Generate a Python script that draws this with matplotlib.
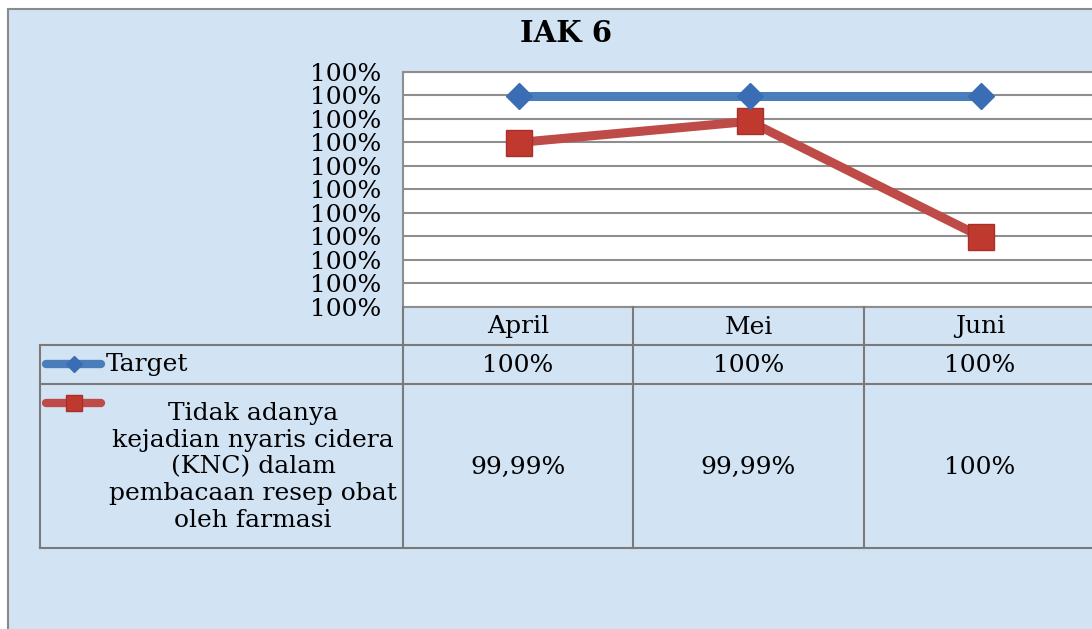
import numpy as np
import matplotlib
matplotlib.use("Agg")
import matplotlib.pyplot as plt
from matplotlib.lines import Line2D
from matplotlib.patches import Rectangle
from matplotlib.ticker import PercentFormatter, MultipleLocator

#  ------------  data  ---------------------------------------
months = ["April", "Mei", "Juni"]
target = [0.99999, 0.99999, 0.99999]
knc = [0.99997, 0.999979, 0.99993]
target_text = ["100%", "100%", "100%"]
knc_text = ["99,99%", "99,99%", "100%"]
target_name = "Target"
knc_name = "Tidak adanya\nkejadian nyaris cidera\n(KNC) dalam\npembacaan resep obat\noleh farmasi"
y_min, y_max, y_step = 0.99990, 1.00000, 0.00001

# colours
blue = "#4a7ebb"
blue_mk = "#3b6db5"
red = "#be4b48"
red_mk = "#c0392f"
grid_c = "#8e8e8e"
bg_c = "#d2e3f4"
serif = "DejaVu Serif"
fs = 18

W, H = 1092, 629


def px(x, y):
    '''pixel (from top left) to figure fraction'''
    return x / W, 1 - y / H


fig = plt.figure(figsize=(W / 100, H / 100), dpi=100)
fig.patch.set_facecolor("white")

# chart area background with border
x0, y0 = px(8, 9)
fig.add_artist(Rectangle((x0, -0.05), 1.1, y0 + 0.05, transform=fig.transFigure,
                         facecolor=bg_c, edgecolor="#8a8a8a", linewidth=1.5, zorder=0))

# plot area
l, t = px(403, 72)
r, b = px(1096, 307)
ax = fig.add_axes([l, b, r - l, t - b])
ax.set_facecolor("white")
ax.set_zorder(2)

xs = np.arange(len(months))
ax.plot(xs, target, color=blue, lw=6.5, marker="D", ms=13, mfc=blue_mk, mec=blue_mk,
        solid_capstyle="butt", zorder=4)
ax.plot(xs, knc, color=red, lw=6.5, marker="s", ms=19, mfc=red_mk, mec="#a8302a", mew=1,
        solid_capstyle="butt", zorder=3)

ax.set_xlim(-0.5, len(months) - 0.5)
ax.set_ylim(y_min, y_max)
ax.yaxis.set_major_locator(MultipleLocator(y_step))
ax.yaxis.set_major_formatter(PercentFormatter(xmax=1, decimals=0))
ax.grid(axis="y", color=grid_c, lw=1.5)
ax.set_axisbelow(True)
ax.set_xticks([])
ax.tick_params(axis="y", length=0, pad=16, labelsize=fs)
for lab in ax.get_yticklabels():
    lab.set_fontfamily(serif)
for s in ["top", "left", "bottom"]:
    ax.spines[s].set_color(grid_c)
    ax.spines[s].set_linewidth(1.5)
ax.spines["right"].set_visible(False)

# title
tx, ty = px(566, 33)
fig.text(tx, ty, "IAK 6", ha="center", va="center", fontsize=21, fontweight="bold",
         family=serif)

# data table
line_kw = dict(color="#7a7a7a", lw=1.5, transform=fig.transFigure, zorder=3)
col_edges = [403, 633, 864, 1096]


def hline(xa, xb, y):
    (a, yy), (bb, _) = px(xa, y), px(xb, y)
    fig.add_artist(Line2D([a, bb], [yy, yy], **line_kw))


def vline(x, ya, yb):
    (xx, a), (_, bb) = px(x, ya), px(x, yb)
    fig.add_artist(Line2D([xx, xx], [a, bb], **line_kw))


hline(40, 1096, 345)
hline(40, 1096, 384)
hline(40, 1096, 548)
vline(40, 345, 548)
for c in col_edges[:-1]:
    vline(c, 307, 548)

for i, m in enumerate(months):
    cx = (col_edges[i] + col_edges[i + 1]) / 2
    fx, fy = px(cx, 327)
    fig.text(fx, fy, m, ha="center", va="center", fontsize=fs, family=serif)
    fx, fy = px(cx, 365)
    fig.text(fx, fy, target_text[i], ha="center", va="center", fontsize=fs, family=serif)
    fx, fy = px(cx, 467)
    fig.text(fx, fy, knc_text[i], ha="center", va="center", fontsize=fs, family=serif)

# legend keys in table
a, yk = px(46, 364)
bb, _ = px(101, 364)
fig.add_artist(Line2D([a, bb], [yk, yk], color=blue, lw=6, solid_capstyle="round",
                      transform=fig.transFigure, zorder=4))
fig.add_artist(Line2D([(a + bb) / 2], [yk], color=blue, marker="D", ms=8, mfc=blue_mk,
                      mec=blue_mk, transform=fig.transFigure, zorder=5))
a, yk = px(46, 403)
fig.add_artist(Line2D([a, bb], [yk, yk], color=red, lw=6, solid_capstyle="round",
                      transform=fig.transFigure, zorder=4))
fig.add_artist(Line2D([(a + bb) / 2], [yk], color=red, marker="s", ms=12, mfc=red_mk,
                      mec="#a8302a", transform=fig.transFigure, zorder=5))

fx, fy = px(106, 365)
fig.text(fx, fy, target_name, ha="left", va="center", fontsize=fs, family=serif)
fx, fy = px(253, 467)
fig.text(fx, fy, knc_name, ha="center", va="center", fontsize=fs, family=serif,
         linespacing=1.2)

fig.savefig("out.png", dpi=100, facecolor=fig.get_facecolor())
